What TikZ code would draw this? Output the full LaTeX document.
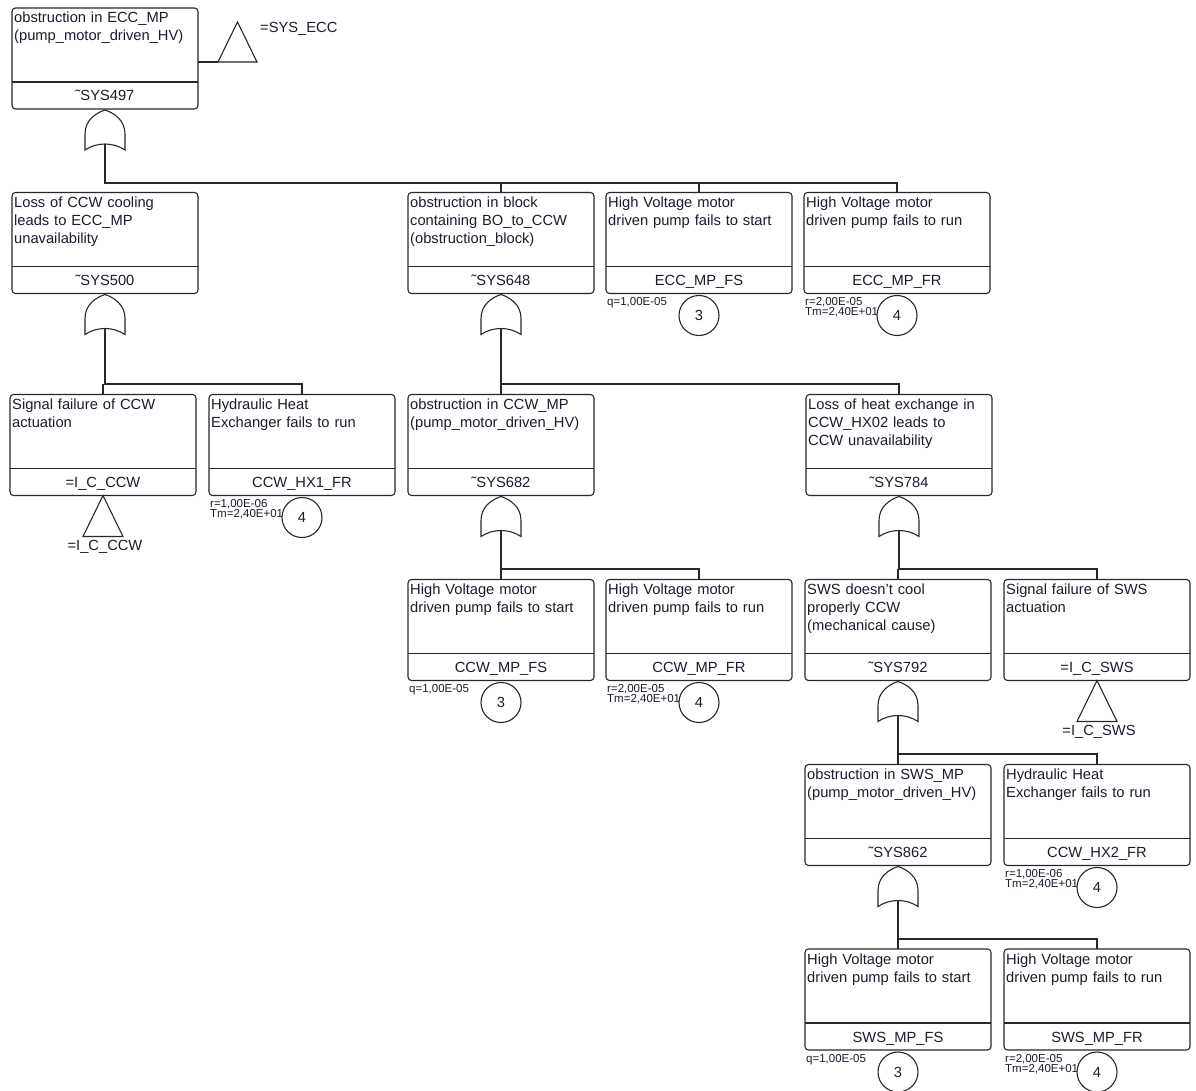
\documentclass[tikz,border=0pt]{standalone}
\usepackage{fontspec}
\setmainfont{Liberation Sans}
\definecolor{linec}{RGB}{40,40,40}
\definecolor{txtc}{RGB}{28,28,44}

% event box: name, x, y (top left), description, identifier
\newcommand\evbox[5]{%
  \node[evframe] (#1) at (#2,#3) {};
  \draw[link] ([yshift=-74pt]#1.north west) -- ([yshift=-74pt]#1.north east);
  \node[desc] (#1-d) at ([xshift=2pt,yshift=-15pt]#1.north west) {#4};
  \node[idlab] (#1-i) at ([yshift=-93pt]#1.north) {#5};
}
% basic event data: box name, parameters, number in the circle
\newcommand\basicdata[3]{%
  \node[param] (#1-p) at ([xshift=1pt,yshift=-4pt]#1.south west) {#2};
  \node[numc] (#1-c) at ([yshift=-22pt]#1.south) {#3};
}
% OR gate below a box: output coordinate name, box name
\newcommand\orgate[2]{%
  \begin{scope}[shift={(#2.south)}]
    \draw[link] (-20,41) -- (-20,25) .. controls (-20,11) and (-9,4) .. (0,1)
      .. controls (9,4) and (20,11) .. (20,25) -- (20,41)
      .. controls (8,33) and (-8,33) .. cycle;
    \coordinate (#1) at (0,35);
  \end{scope}
}
% transfer triangle below a box: name, box name, label
\newcommand\xfer[3]{%
  \begin{scope}[shift={(#2.south)}]
    \draw[link] (0,0) -- (20,41) -- (-20,41) -- cycle;
    \coordinate (#1) at (0,41);
  \end{scope}
  \node[idlab] (#1-l) at ([xshift=2pt,yshift=-14pt]#1) {#3};
}

\begin{document}
\begin{tikzpicture}[x=1pt,y=-1pt,
  link/.style={draw=linec, line width=1.1pt},
  evframe/.style={draw=linec, line width=1.1pt, rounded corners=3.5pt,
    minimum width=186pt, minimum height=101pt, anchor=north west,
    inner sep=0pt, outer sep=0pt},
  desc/.style={font=\fontsize{14.7}{18}\selectfont, text=txtc,
    text width=182pt, align=left, inner sep=0pt, anchor=base west},
  idlab/.style={font=\fontsize{14.7}{18}\selectfont, text=txtc,
    inner sep=0pt, anchor=base},
  param/.style={font=\fontsize{11.5}{10}\selectfont, text=txtc,
    align=left, inner sep=0pt, anchor=north west},
  numc/.style={draw=linec, line width=1.1pt, circle, fill=white,
    minimum size=40pt, inner sep=0pt, font=\fontsize{14.7}{18}\selectfont,
    text=txtc}]

\fill[white] (0,0) rectangle (1196,1091);
\useasboundingbox (0,0) rectangle (1196,1091);

% ---------- top event ----------
\evbox{top}{12}{8}{obstruction in ECC\_MP\\(pump\_motor\_driven\_HV)}{˜SYS497}
\draw[link] ([yshift=-54pt]top.north east) -- ++(20,0) coordinate (tin);
\draw[link] (tin) -- ++(39,0) -- ++(-19.5,-40) -- cycle;
\node[idlab, anchor=base west] (secc) at (260,32.5) {=SYS\_ECC};
\orgate{g497}{top}

% ---------- first level ----------
\evbox{b500}{12}{192.5}{Loss of CCW cooling\\leads to ECC\_MP\\unavailability}{˜SYS500}
\evbox{b648}{408}{192.5}{obstruction in block\\containing BO\_to\_CCW\\(obstruction\_block)}{˜SYS648}
\evbox{eccfs}{606}{192.5}{High Voltage motor\\driven pump fails to start}{ECC\_MP\_FS}
\evbox{eccfr}{804}{192.5}{High Voltage motor\\driven pump fails to run}{ECC\_MP\_FR}
\basicdata{eccfs}{q=1,00E-05}{3}
\basicdata{eccfr}{r=2,00E-05\\Tm=2,40E+01}{4}
\orgate{g500}{b500}
\orgate{g648}{b648}

\coordinate (bar497) at (0,183);
\draw[link] (g497) -- (g497 |- bar497) -| (eccfr.north);
\draw[link] (b648.north |- bar497) -- (b648.north);
\draw[link] (eccfs.north |- bar497) -- (eccfs.north);

% ---------- second level ----------
\evbox{iccw}{10}{394.5}{Signal failure of CCW\\actuation}{=I\_C\_CCW}
\evbox{hx1}{209}{394.5}{Hydraulic Heat\\Exchanger fails to run}{CCW\_HX1\_FR}
\evbox{b682}{408}{394.5}{obstruction in CCW\_MP\\(pump\_motor\_driven\_HV)}{˜SYS682}
\evbox{b784}{806}{394.5}{Loss of heat exchange in\\CCW\_HX02 leads to\\CCW unavailability}{˜SYS784}
\xfer{ticcw}{iccw}{=I\_C\_CCW}
\basicdata{hx1}{r=1,00E-06\\Tm=2,40E+01}{4}
\orgate{g682}{b682}
\orgate{g784}{b784}

\coordinate (bar500) at (0,384);
\draw[link] (g500) -- (g500 |- bar500) -| (hx1.north);
\draw[link] (iccw.north |- bar500) -- (iccw.north);
\draw[link] (g648) -- (g648 |- bar500) -| (b784.north);
\draw[link] (b682.north |- bar500) -- (b682.north);

% ---------- third level ----------
\evbox{ccwfs}{408}{579.5}{High Voltage motor\\driven pump fails to start}{CCW\_MP\_FS}
\evbox{ccwfr}{606}{579.5}{High Voltage motor\\driven pump fails to run}{CCW\_MP\_FR}
\evbox{b792}{805}{579.5}{SWS doesn't cool\\properly CCW\\(mechanical cause)}{˜SYS792}
\evbox{isws}{1004}{579.5}{Signal failure of SWS\\actuation}{=I\_C\_SWS}
\basicdata{ccwfs}{q=1,00E-05}{3}
\basicdata{ccwfr}{r=2,00E-05\\Tm=2,40E+01}{4}
\xfer{tisws}{isws}{=I\_C\_SWS}
\orgate{g792}{b792}

\coordinate (bar682) at (0,569);
\draw[link] (g682) -- (g682 |- bar682) -| (ccwfr.north);
\draw[link] (ccwfs.north |- bar682) -- (ccwfs.north);
\draw[link] (g784) -- (g784 |- bar682) -| (isws.north);
\draw[link] (b792.north |- bar682) -- (b792.north);

% ---------- fourth level ----------
\evbox{b862}{805}{764.5}{obstruction in SWS\_MP\\(pump\_motor\_driven\_HV)}{˜SYS862}
\evbox{hx2}{1004}{764.5}{Hydraulic Heat\\Exchanger fails to run}{CCW\_HX2\_FR}
\basicdata{hx2}{r=1,00E-06\\Tm=2,40E+01}{4}
\orgate{g862}{b862}

\coordinate (bar792) at (0,754);
\draw[link] (g792) -- (g792 |- bar792) -| (hx2.north);
\draw[link] (b862.north |- bar792) -- (b862.north);

% ---------- fifth level ----------
\evbox{swsfs}{805}{949}{High Voltage motor\\driven pump fails to start}{SWS\_MP\_FS}
\evbox{swsfr}{1004}{949}{High Voltage motor\\driven pump fails to run}{SWS\_MP\_FR}
\basicdata{swsfs}{q=1,00E-05}{3}
\basicdata{swsfr}{r=2,00E-05\\Tm=2,40E+01}{4}

\coordinate (bar862) at (0,939);
\draw[link] (g862) -- (g862 |- bar862) -| (swsfr.north);
\draw[link] (swsfs.north |- bar862) -- (swsfs.north);

\end{tikzpicture}
\end{document}
